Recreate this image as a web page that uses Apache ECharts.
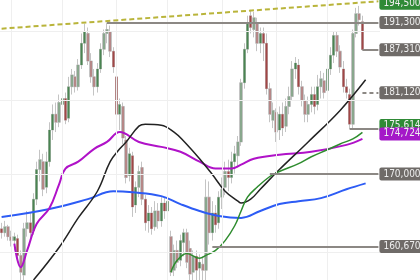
<!DOCTYPE html>
<html><head><meta charset="utf-8">
<script src="https://cdn.jsdelivr.net/npm/echarts@6/dist/echarts.min.js"></script>
<style>html,body{margin:0;padding:0;background:#fff;overflow:hidden}#c{width:420px;height:280px}</style>
</head><body><div id="c"></div>
<script>
const candleOpen=[162910,162410,163160,161910,161410,161660,159560,157130,162910,163660,
162660,166710,170600,171650,168260,171650,175930,178110,177010,179480,
180310,177560,181980,183380,181980,185080,188240,189690,185650,183380,
181980,184510,187380,189690,189980,187090,183380,178110,179200,174580,
169810,172450,165940,168260,170860,166710,163910,164930,163160,165180,
163910,166200,165180,161910,157730,160180,158950,161160,162410,160420,
157490,159440,157980,158460,157730,166970,162410,164930,163660,166970,
168260,170340,169550,171650,172450,174310,182540,187380,192330,190270,
191150,188240,189690,188240,181700,177290,178380,175930,178110,176470,
179200,180590,184510,185080,181980,180030,178110,179480,180870,179480,
181980,182820,181430,184510,186510,189400,187090,184510,181980,180870,
176740,189690,192620,191440];
const candleClose=[162410,163160,161910,161410,161910,159560,157490,162910,163660,162410,
166710,170600,171920,168000,171650,175930,178110,177010,179750,180310,
177290,181980,183660,181980,185080,188240,189980,185650,183380,181980,
184510,187380,189690,190270,187090,184790,178110,179480,174850,169550,
172710,165690,168260,170340,166710,163660,164930,162910,165180,163910,
166200,165180,166450,157490,160180,158710,161410,162410,158710,157250,
159440,157730,158710,157730,166970,162410,164930,163410,166970,168000,
170340,169550,171650,172710,174310,182540,187380,191150,190570,192030,
188240,189690,188240,181700,178110,178650,175660,178110,176200,179200,
180590,184510,185360,181980,180030,178110,179480,180870,179200,181980,
183100,181150,184510,186510,189400,187090,184790,181980,181150,176740,
189690,192620,191740,187310];
const candleLow=[161660,161910,161410,160670,160180,158950,156530,156290,161910,161660,
162160,165940,169030,167100,167480,170990,174580,175660,176330,178110,
176740,177010,180870,181150,181430,184510,186800,185080,182540,180730,
181150,183950,186510,188240,186230,183950,177290,175930,174040,168770,
169030,164420,164930,166970,165940,162660,162410,162160,162660,162910,
163160,164170,163660,157010,157010,157980,158220,159440,157980,156530,
156530,156530,156290,156290,156290,160910,161410,162410,162910,165430,
167230,167740,168770,170070,170860,173780,181700,186800,189690,189110,
187090,186800,185650,180870,177010,176200,174310,174580,175120,175660,
178110,180030,183100,180870,179200,177010,177010,178380,178110,178650,
180310,180310,180590,183660,185360,186230,183950,181150,180310,176060,
176060,189110,190860,187200];
const candleHigh=[163660,163910,163410,162660,162410,162160,160180,163660,165180,164930,
167480,171650,173250,172710,172980,177010,179480,179750,180870,181430,
181150,183380,184510,184230,185940,189690,191150,190570,186800,184510,
185360,188240,190270,191300,190860,187670,183950,180310,179750,175120,
173510,172980,169030,171120,171650,167230,165940,165690,166450,166200,
166970,166970,167230,162660,160910,161410,162160,162910,162910,161410,
160180,160180,159690,159440,169290,169030,166450,165940,167740,169550,
171650,171920,172980,173780,175120,183100,188240,192330,193220,192920,
192030,190570,190570,189690,182540,179750,178930,179200,179750,180310,
181980,185650,186230,185940,182820,180870,180590,181980,181980,183660,
184230,183950,185650,187670,189980,189980,187950,185650,183100,181700,
190270,193510,193810,192330];

// indicator lines read at sample candles: [candle index, price]
const blueLine=[[0,164420],[15,165430],[27,166710],[35,167740],[41,167610],[50,167100],[56,166070],[62,165180],[68,164540],[75,164290],[81,165180],[87,166070],[93,166450],[100,166840],[108,168000],[114,168770]];
const magentaLine=[[4,161040],[6,158100],[8,160180],[11,163540],[15,165560],[18,168640],[20,170730],[24,171650],[29,173380],[33,174310],[37,175660],[43,174310],[50,173640],[56,172980],[62,171650],[67,170730],[72,170730],[75,171250],[79,172050],[87,172580],[97,172980],[108,173910],[113,174724]];
const blackLine=[[10,156530],[18,160550],[24,164290],[30,167740],[34,171650],[37,173380],[39,174310],[43,176470],[45,176740],[50,176600],[54,175660],[57,174450],[62,172050],[66,169940],[70,167740],[74,166450],[75,166200],[78,166710],[81,168000],[87,170600],[96,174310],[106,178650],[114,182960]];
const greenLine=[[53,157490],[55,158950],[58,159810],[62,159200],[64,159560],[67,160180],[70,161410],[73,163290],[75,165180],[77,166970],[80,168260],[84,169680],[87,170340],[93,171390],[97,172310],[102,173250],[106,174040],[110,174720],[113,175614]];

// price levels: [start candle index, price, label]
const levelLines=[[33,191300,'191,300'],[113,187310,'187,310'],[84,170000,'170,000'],[66,160670,'160,670'],[109,176060,'']];
const dashedLevel=[113,181120,'181,120'];
const trendLine=[[0,190400],[118,194500]];
const trendLabel='194,500';
const maLabels=[[175614,'175,614','#2f8a36',-7],[174724,'174,724','#a418c8',-5]];
const gridPrices=[160000,170000,180000,190000];
const gridColumns=[3,19,36,52,69,86,102];

const emptySlots=5;
const categories=[];
for(let i=0;i<candleOpen.length+emptySlots;i++)categories.push(String(i));
const lastIdx=categories.length-1;
const candleData=candleOpen.map((o,i)=>[o,candleClose[i],candleLow[i],candleHigh[i]]);

const FONT='"Liberation Sans Narrow","DejaVu Sans Condensed","Roboto",sans-serif';
function tag(text,bg,offY){
  return {show:!!text,position:'end',distance:1,formatter:text,color:'#eeeeee',backgroundColor:bg,
    padding:[2,4,1,4],borderRadius:2,fontSize:10,fontFamily:FONT,offset:[0,offY||0]};
}
const mlData=[];
levelLines.forEach(l=>{
  mlData.push([{coord:[l[0],l[1]],lineStyle:{color:'#8c8884',width:2,type:'solid'},label:tag(l[2],'#6f6b68')},{coord:[lastIdx,l[1]]}]);
});
mlData.push([{coord:[dashedLevel[0],dashedLevel[1]],lineStyle:{color:'#8c8884',width:2,type:[4,3]},label:tag(dashedLevel[2],'#6f6b68')},{coord:[lastIdx,dashedLevel[1]]}]);
mlData.push([{coord:trendLine[0],lineStyle:{color:'#b9b43a',width:2,type:[5,3]},label:tag(trendLabel,'#2f8a36',2)},{coord:trendLine[1]}]);
maLabels.forEach(m=>{
  mlData.push([{coord:[candleOpen.length-1,m[0]],lineStyle:{color:'rgba(0,0,0,0)',width:0},label:tag(m[1],m[2],m[3])},{coord:[lastIdx,m[0]]}]);
});

const chart=echarts.init(document.getElementById('c'),null,{renderer:'canvas'});
chart.setOption({
  animation:false,
  backgroundColor:'#ffffff',
  grid:{left:0,right:40,top:-4,bottom:0,containLabel:false},
  xAxis:{type:'category',data:categories,boundaryGap:true,show:true,axisLine:{show:false},axisTick:{show:false},axisLabel:{show:false},splitLine:{show:false}},
  yAxis:{type:'log',logBase:10,min:156530,max:194700,axisLine:{show:false},axisTick:{show:false},axisLabel:{show:false},splitLine:{show:false}},
  series:[
    {type:'line',data:[],markLine:{silent:true,symbol:'none',label:{show:false},lineStyle:{color:'#efefef',width:1,type:'solid'},
      data:gridPrices.map(p=>({yAxis:p})).concat(gridColumns.map(c=>({xAxis:c})))}},
    {type:'candlestick',data:candleData,barWidth:3,
      itemStyle:{color:'#c9c9c9',color0:'#c9c9c9',borderColor:'#c4c4c4',borderColor0:'#c4c4c4',borderWidth:1}},
    {type:'candlestick',data:candleData,barWidth:2,
      itemStyle:{color:'#4a8552',color0:'#a24646',borderColor:'#4a8552',borderColor0:'#a24646',borderWidth:0},
      markLine:{silent:true,symbol:'none',data:mlData}},
    {type:'line',data:blueLine,smooth:0.4,symbol:'none',lineStyle:{color:'#2d5cf5',width:2}},
    {type:'line',data:magentaLine,smooth:0.4,symbol:'none',lineStyle:{color:'#b012c8',width:2}},
    {type:'line',data:blackLine,smooth:0.4,symbol:'none',lineStyle:{color:'#222222',width:1.5}},
    {type:'line',data:greenLine,smooth:0.4,symbol:'none',lineStyle:{color:'#2e8c2e',width:1.5}}
  ]
});
</script></body></html>
